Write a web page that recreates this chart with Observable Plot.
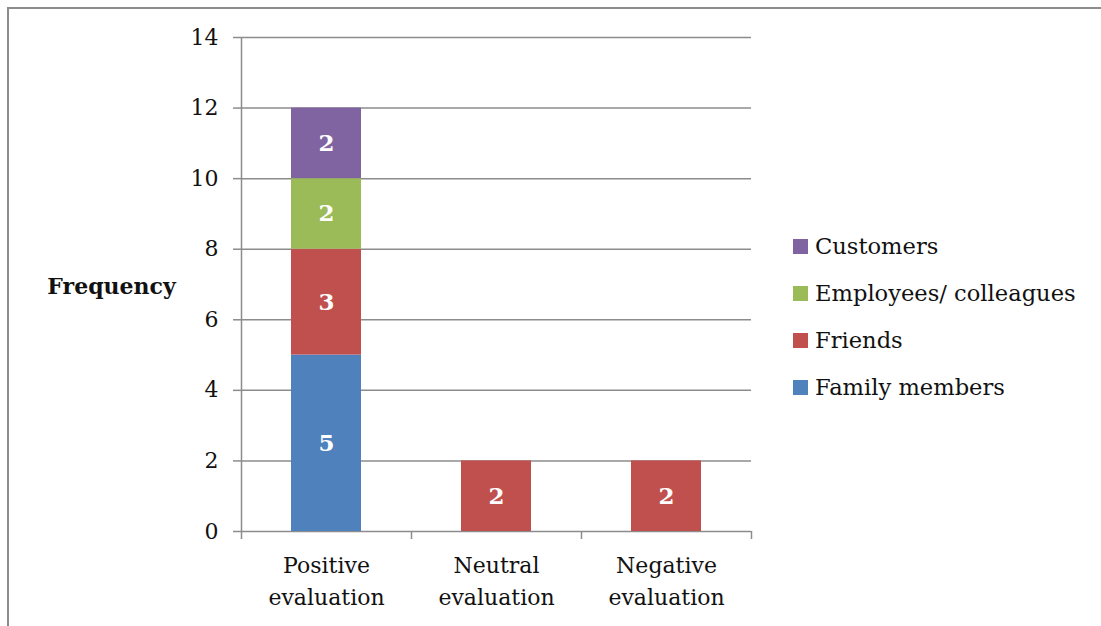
<!DOCTYPE html>
<html>
<head>
<meta charset="utf-8">
<script src="https://cdn.jsdelivr.net/npm/d3@7"></script>
<script src="https://cdn.jsdelivr.net/npm/@observablehq/plot@0.6"></script>
<style>
  html, body { margin: 0; padding: 0; background: #fff; }
  #wrap { position: relative; width: 1101px; height: 626px; overflow: hidden; font-family: "DejaVu Serif", serif; }
  #border { position: absolute; left: 7px; top: 7px; right: -5px; bottom: -5px; border-top: 2px solid #8c8c8c; border-left: 2px solid #8c8c8c; }
  #chart { position: absolute; left: 0; top: 0; }
  #legend { position: absolute; left: 793px; top: 223px; font-size: 22.6px; color: #111; }
  .item { height: 47px; line-height: 47px; display: flex; align-items: center; white-space: nowrap; }
  .sw { width: 15px; height: 15px; margin-right: 7px; flex: none; }
</style>
</head>
<body>
<div id="wrap">
  <div id="border"></div>
  <div id="chart"></div>
  <div id="legend"></div>
</div>
<script>
const categories = ["Positive evaluation", "Neutral evaluation", "Negative evaluation"];
const groups = ["Family members", "Friends", "Employees/ colleagues", "Customers"];
const familyValues = [5, 0, 0];
const friendsValues = [3, 2, 2];
const employeesValues = [2, 0, 0];
const customersValues = [2, 0, 0];
const groupColors = ["#4F81BD", "#C0504D", "#9BBB59", "#8064A2"];
const yTicks = [0, 2, 4, 6, 8, 10, 12, 14];
const legendOrder = ["Customers", "Employees/ colleagues", "Friends", "Family members"];
const yLabel = "Frequency";

const seriesValues = [familyValues, friendsValues, employeesValues, customersValues];
const rows = [];
categories.forEach((c, ci) => {
  groups.forEach((g, gi) => {
    const v = seriesValues[gi][ci];
    if (v > 0) rows.push({category: c, group: g, value: v});
  });
});

const font = "DejaVu Serif, serif";
const chart = Plot.plot({
  width: 1101,
  height: 626,
  marginLeft: 241,
  marginRight: 350,
  marginTop: 37,
  marginBottom: 95,
  style: {fontFamily: font, fontSize: "22px", color: "#111", background: "transparent"},
  x: {domain: categories, paddingInner: 0.59, paddingOuter: 0.295, axis: null},
  y: {domain: [0, 14], axis: null},
  color: {domain: groups, range: groupColors},
  marks: [
    Plot.gridY(yTicks, {stroke: "#8c8c8c", strokeOpacity: 1, strokeWidth: 1.5}),
    Plot.axisY(yTicks, {label: null, tickSize: 8, tickPadding: 15, stroke: "#8c8c8c", strokeWidth: 1.5, fill: "#111", fontSize: 22}),
    Plot.ruleX([categories[0]], {x: d => d, y1: 0, y2: 14, dx: -85, stroke: "#8c8c8c", strokeWidth: 1.5}),
    Plot.ruleX(categories, {x: d => d, y1: 0, y2: 0, dx: -85, insetTop: 8, stroke: "#8c8c8c", strokeWidth: 1.5}),
    Plot.ruleX([categories[categories.length - 1]], {x: d => d, y1: 0, y2: 0, dx: 85, insetTop: 8, stroke: "#8c8c8c", strokeWidth: 1.5}),
    Plot.barY(rows, {x: "category", y: "value", z: "group", fill: "group"}),
    Plot.text(rows, Plot.stackY({x: "category", y: "value", z: "group", text: d => String(d.value), fill: "white", fontWeight: "bold", fontSize: 23})),
    Plot.axisX({label: null, tickSize: 0, tickPadding: 19, fontSize: 22, lineHeight: 1.45, fill: "#111", tickFormat: d => d.replace(" ", "\n")}),
    Plot.text([yLabel], {frameAnchor: "middle", text: d => d, dx: -130 - 255, dy: 2, textAnchor: "middle", fontWeight: "bold", fontSize: 22, fill: "#111"})
  ]
});
document.getElementById("chart").appendChild(chart);

const legend = document.getElementById("legend");
legendOrder.forEach(g => {
  const item = document.createElement("div");
  item.className = "item";
  const sw = document.createElement("span");
  sw.className = "sw";
  sw.style.background = groupColors[groups.indexOf(g)];
  const label = document.createElement("span");
  label.textContent = g;
  item.appendChild(sw);
  item.appendChild(label);
  legend.appendChild(item);
});
</script>
</body>
</html>
